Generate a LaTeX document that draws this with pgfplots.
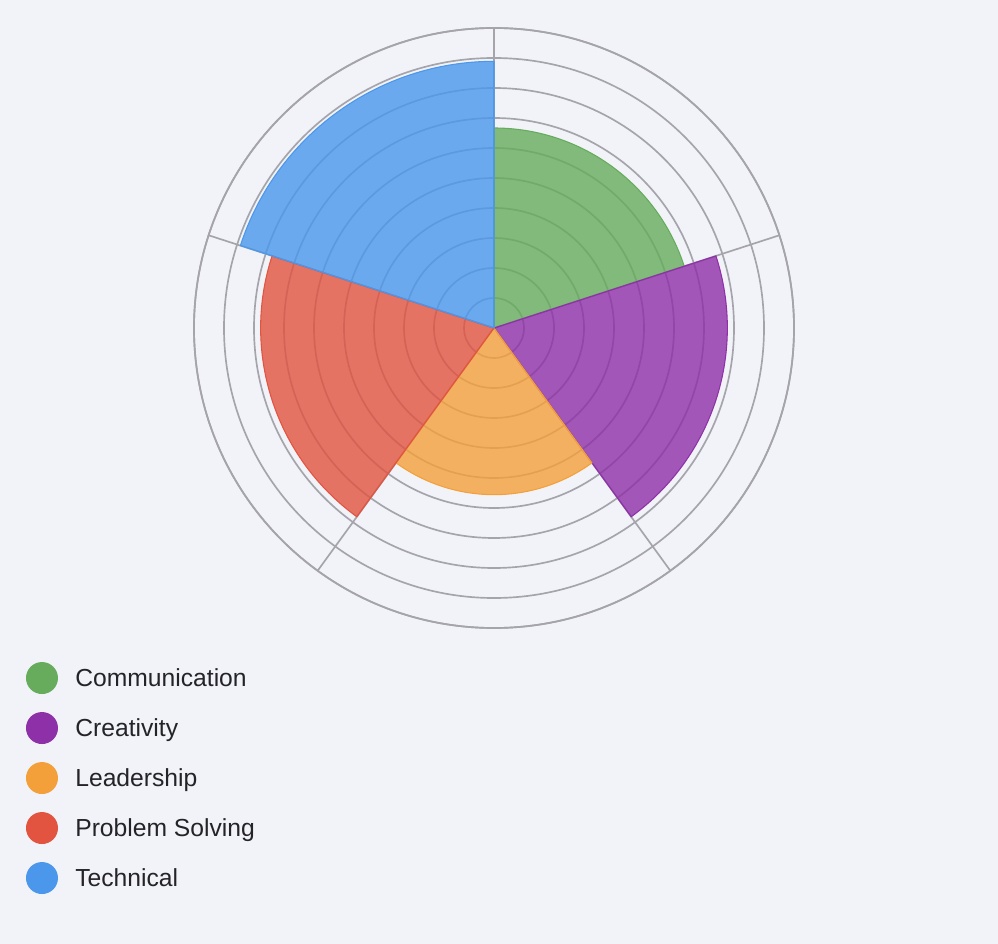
\documentclass[border=0pt]{standalone}
\usepackage{fontspec}
\setmainfont{Liberation Sans}
\usepackage{pgfplots}
\pgfplotsset{compat=1.18}
\usepgfplotslibrary{polar}
\usetikzlibrary{backgrounds}
\definecolor{bg}{RGB}{242,243,248}
\definecolor{cgreen}{RGB}{102,172,92}
\definecolor{cpurple}{RGB}{142,48,168}
\definecolor{corange}{RGB}{244,160,58}
\definecolor{cred}{RGB}{226,83,64}
\definecolor{cblue}{RGB}{74,151,236}
\definecolor{gridc}{RGB}{164,164,170}
\definecolor{txt}{RGB}{36,36,40}
\begin{document}
\begin{tikzpicture}[x=0.75pt,y=0.75pt]
\begin{polaraxis}[
  scale only axis, width=450pt, height=450pt,
  xmin=0, xmax=360, ymin=0, ymax=9,
  xtick={18,90,162,234,306}, xticklabels={},
  ytick={0.9,1.8,2.7,3.6,4.5,5.4,6.3,7.2,8.1,9}, yticklabels={},
  major tick length=0pt,
  xmajorgrids, ymajorgrids,
  grid style={gridc, line width=1.25pt},
  x axis line style={gridc, line width=1.25pt},
  y axis line style={draw=none},
  legend style={at={(-0.28,-0.0567)}, anchor=north west,
    draw=none, fill=none, inner sep=0pt, outer sep=0pt,
    row sep=13.5pt, column sep=13pt,
    nodes={inner sep=0pt, text depth=0pt, text height=13.3pt},
    font=\fontsize{18.5}{22}\selectfont, text=txt},
  legend cell align=left,
  legend image code/.code={\fill[#1, fill opacity=1, draw=none] (12pt,0pt) circle (12pt);},
]
\coordinate (O) at (axis cs:0,0);
% values: Communication 6, Creativity 7, Leadership 5, Problem Solving 7, Technical 8 (25pt per unit)
\addplot[draw=cgreen, line width=0.8pt, fill=cgreen, fill opacity=0.8]
  coordinates {(0,0) (90,6)} arc[start angle=90, end angle=18, radius=6*25pt] -- cycle;
\addlegendentry{Communication}
\addplot[draw=cpurple, line width=0.8pt, fill=cpurple, fill opacity=0.8]
  coordinates {(0,0) (18,7)} arc[start angle=18, end angle=-54, radius=7*25pt] -- cycle;
\addlegendentry{Creativity}
\addplot[draw=corange, line width=0.8pt, fill=corange, fill opacity=0.8]
  coordinates {(0,0) (306,5)} arc[start angle=-54, end angle=-126, radius=5*25pt] -- cycle;
\addlegendentry{Leadership}
\addplot[draw=cred, line width=0.8pt, fill=cred, fill opacity=0.8]
  coordinates {(0,0) (234,7)} arc[start angle=234, end angle=162, radius=7*25pt] -- cycle;
\addlegendentry{Problem Solving}
\addplot[draw=cblue, line width=0.8pt, fill=cblue, fill opacity=0.8]
  coordinates {(0,0) (162,8)} arc[start angle=162, end angle=90, radius=8*25pt] -- cycle;
\addlegendentry{Technical}
\end{polaraxis}
\begin{scope}[on background layer]
\fill[bg] ([shift={(-494,328)}]O) rectangle ([shift={(504,-616)}]O);
\end{scope}
\end{tikzpicture}
\end{document}
